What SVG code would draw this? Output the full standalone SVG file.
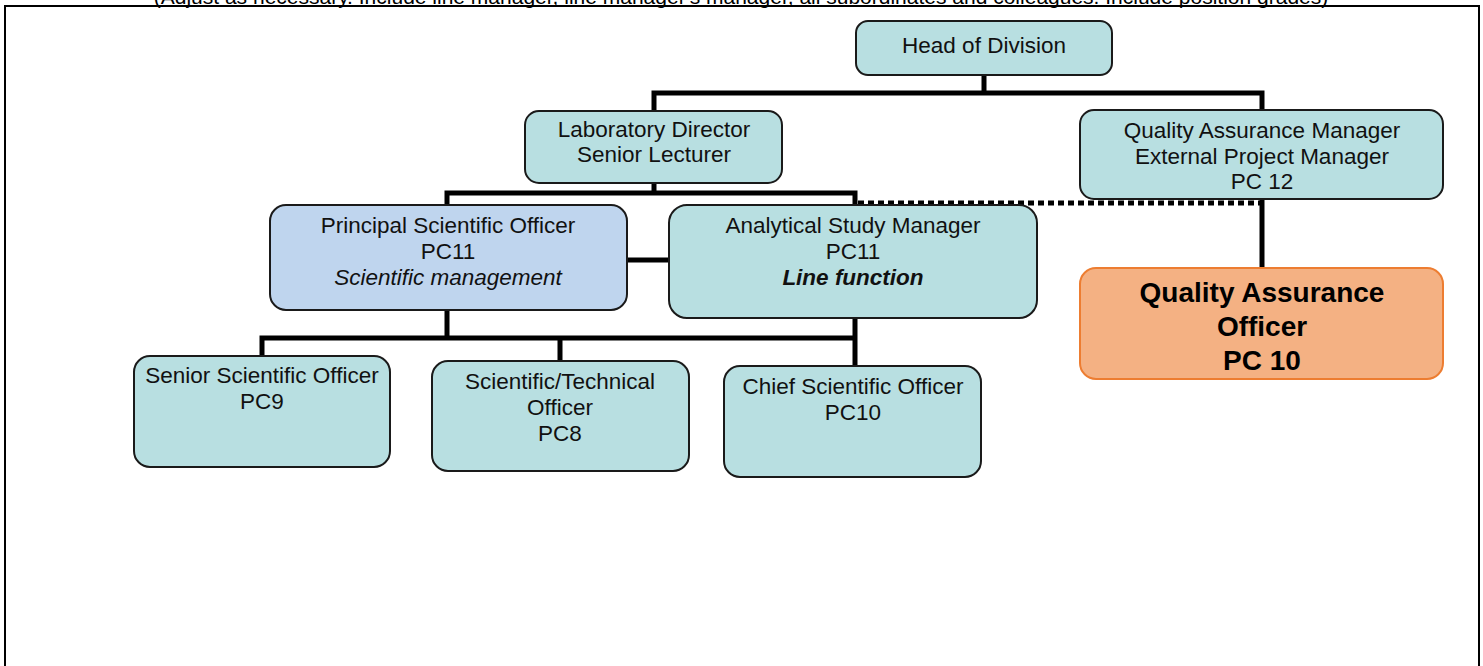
<svg xmlns="http://www.w3.org/2000/svg" width="1483" height="666" viewBox="0 0 1483 666">
<style>
.box{fill:#B8DFE1;stroke:#1a1a1a;stroke-width:2}
.pso{fill:#BFD5EE;stroke:#1a1a1a;stroke-width:2}
.qao{fill:#F4B183;stroke:#ED7D31;stroke-width:2}
.t{font-family:"Liberation Sans",Arial,sans-serif;font-size:22.5px;fill:#111;text-anchor:middle}
.b{font-family:"Liberation Sans",Arial,sans-serif;font-size:28px;font-weight:bold;fill:#000;text-anchor:middle}
.ln{fill:none;stroke:#000;stroke-width:5}
.dot{fill:none;stroke:#000;stroke-width:5;stroke-dasharray:6 4}
</style>
<rect width="1483" height="666" fill="#fff"/>
<text x="741" y="4" style="font-family:'Liberation Sans',Arial,sans-serif;font-size:21px;fill:#000;text-anchor:middle">(Adjust as necessary. Include line manager, line manager's manager, all subordinates and colleagues. Include position grades)</text>
<path d="M5,666 V6 H1479 V666" fill="none" stroke="#000" stroke-width="2"/>
<g id="connectors">
<path class="ln" d="M984,75 V93 M654,111 V93 H1262 V110"/>
<path class="ln" d="M654,183 V193 M447,205 V193 H855 V205"/>
<path class="dot" d="M858,203 H1262"/>
<path class="ln" d="M1262,199 V268"/>
<path class="ln" d="M627,260 H669"/>
<path class="ln" d="M447,310 V338 M855,318 V366 M262,356 V338 H855 M560,338 V361"/>
</g>
<g id="head">
<rect class="box" x="856" y="21" width="256" height="54" rx="12"/>
<text class="t" x="984" y="53">Head of Division</text>
</g>
<g id="labdir">
<rect class="box" x="525" y="111" width="257" height="72" rx="14"/>
<text class="t" x="654" y="137">Laboratory Director</text>
<text class="t" x="654" y="162">Senior Lecturer</text>
</g>
<g id="qam">
<rect class="box" x="1080" y="110" width="363" height="89" rx="14"/>
<text class="t" x="1262" y="138">Quality Assurance Manager</text>
<text class="t" x="1262" y="164">External Project Manager</text>
<text class="t" x="1262" y="189">PC 12</text>
</g>
<g id="pso">
<rect class="pso" x="270" y="205" width="357" height="105" rx="16"/>
<text class="t" x="448" y="233">Principal Scientific Officer</text>
<text class="t" x="448" y="259">PC11</text>
<text class="t" x="448" y="285" font-style="italic">Scientific management</text>
</g>
<g id="asm">
<rect class="box" x="669" y="205" width="368" height="113" rx="18"/>
<text class="t" x="853" y="233">Analytical Study Manager</text>
<text class="t" x="853" y="259">PC11</text>
<text class="t" x="853" y="285" font-style="italic" font-weight="bold">Line function</text>
</g>
<g id="qao">
<rect class="qao" x="1080" y="268" width="363" height="111" rx="16"/>
<text class="b" x="1262" y="302">Quality Assurance</text>
<text class="b" x="1262" y="336">Officer</text>
<text class="b" x="1262" y="370">PC 10</text>
</g>
<g id="sso">
<rect class="box" x="134" y="356" width="256" height="111" rx="16"/>
<text class="t" x="262" y="383">Senior Scientific Officer</text>
<text class="t" x="262" y="409">PC9</text>
</g>
<g id="sto">
<rect class="box" x="432" y="361" width="257" height="110" rx="16"/>
<text class="t" x="560" y="389">Scientific/Technical</text>
<text class="t" x="560" y="415">Officer</text>
<text class="t" x="560" y="441">PC8</text>
</g>
<g id="cso">
<rect class="box" x="724" y="366" width="257" height="111" rx="16"/>
<text class="t" x="853" y="394">Chief Scientific Officer</text>
<text class="t" x="853" y="420">PC10</text>
</g>
</svg>
